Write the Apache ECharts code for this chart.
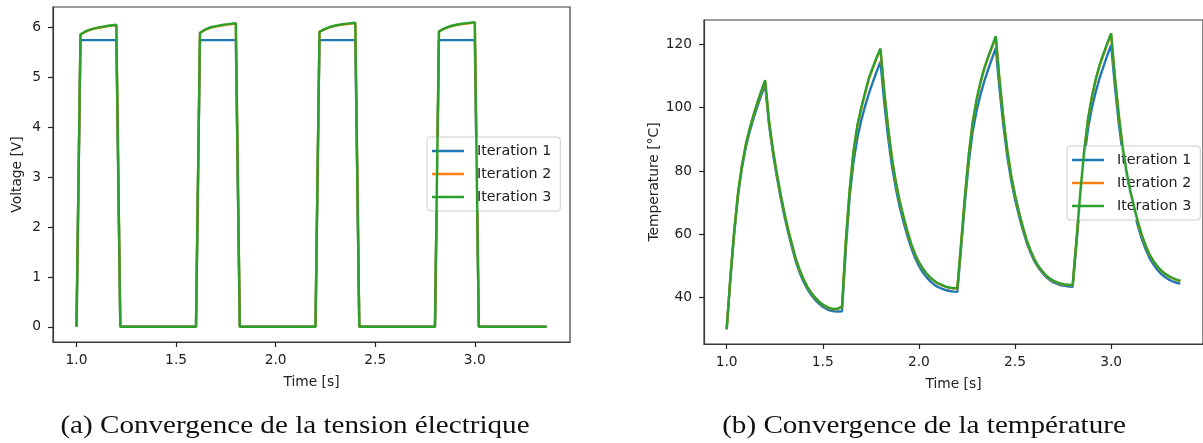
<!DOCTYPE html>
<html>
<head>
<meta charset="utf-8">
<script src="https://cdn.jsdelivr.net/npm/echarts@6/dist/echarts.min.js"></script>
<style>
  html, body { margin: 0; padding: 0; background: #ffffff; }
  #chart { width: 1203px; height: 443px; }
</style>
</head>
<body>
<div id="chart"></div>
<script>
// ---- Data ----
const times = [
  1.00,1.02,1.04,1.06,1.08,1.10,1.12,1.14,1.16,1.18,
  1.20,1.22,1.24,1.26,1.28,1.30,1.32,1.34,1.36,1.38,
  1.40,1.42,1.44,1.46,1.48,1.50,1.52,1.54,1.56,1.58,
  1.60,1.62,1.64,1.66,1.68,1.70,1.72,1.74,1.76,1.78,
  1.80,1.82,1.84,1.86,1.88,1.90,1.92,1.94,1.96,1.98,
  2.00,2.02,2.04,2.06,2.08,2.10,2.12,2.14,2.16,2.18,
  2.20,2.22,2.24,2.26,2.28,2.30,2.32,2.34,2.36,2.38,
  2.40,2.42,2.44,2.46,2.48,2.50,2.52,2.54,2.56,2.58,
  2.60,2.62,2.64,2.66,2.68,2.70,2.72,2.74,2.76,2.78,
  2.80,2.82,2.84,2.86,2.88,2.90,2.92,2.94,2.96,2.98,
  3.00,3.02,3.04,3.06,3.08,3.10,3.12,3.14,3.16,3.18,
  3.20,3.22,3.24,3.26,3.28,3.30,3.32,3.34,3.36
];

const seriesNames = ['Iteration 1', 'Iteration 2', 'Iteration 3'];

// Voltage [V]
const voltageIter1 = [
  0,5.75,5.75,5.75,5.75,5.75,5.75,5.75,5.75,5.75,
  5.75,0,0,0,0,0,0,0,0,0,
  0,0,0,0,0,0,0,0,0,0,
  0,5.75,5.75,5.75,5.75,5.75,5.75,5.75,5.75,5.75,
  5.75,0,0,0,0,0,0,0,0,0,
  0,0,0,0,0,0,0,0,0,0,
  0,5.75,5.75,5.75,5.75,5.75,5.75,5.75,5.75,5.75,
  5.75,0,0,0,0,0,0,0,0,0,
  0,0,0,0,0,0,0,0,0,0,
  0,5.75,5.75,5.75,5.75,5.75,5.75,5.75,5.75,5.75,
  5.75,0,0,0,0,0,0,0,0,0,
  0,0,0,0,0,0,0,0,0
];
const voltageIter2 = [
  0,5.865,5.908,5.944,5.970,5.990,6.005,6.018,6.031,6.042,
  6.052,0,0,0,0,0,0,0,0,0,
  0,0,0,0,0,0,0,0,0,0,
  0,5.895,5.944,5.981,6.006,6.023,6.038,6.053,6.063,6.073,
  6.082,0,0,0,0,0,0,0,0,0,
  0,0,0,0,0,0,0,0,0,0,
  0,5.915,5.954,5.989,6.017,6.036,6.052,6.064,6.074,6.083,
  6.092,0,0,0,0,0,0,0,0,0,
  0,0,0,0,0,0,0,0,0,0,
  0,5.925,5.965,6.000,6.027,6.047,6.062,6.074,6.084,6.093,
  6.102,0,0,0,0,0,0,0,0,0,
  0,0,0,0,0,0,0,0,0
];
const voltageIter3 = [
  0,5.870,5.915,5.952,5.978,5.998,6.013,6.026,6.039,6.050,
  6.060,0,0,0,0,0,0,0,0,0,
  0,0,0,0,0,0,0,0,0,0,
  0,5.900,5.951,5.989,6.014,6.031,6.046,6.061,6.071,6.081,
  6.090,0,0,0,0,0,0,0,0,0,
  0,0,0,0,0,0,0,0,0,0,
  0,5.920,5.961,5.997,6.025,6.044,6.060,6.072,6.082,6.091,
  6.100,0,0,0,0,0,0,0,0,0,
  0,0,0,0,0,0,0,0,0,0,
  0,5.930,5.972,6.008,6.035,6.055,6.070,6.082,6.092,6.101,
  6.110,0,0,0,0,0,0,0,0,0,
  0,0,0,0,0,0,0,0,0
];

// Temperature [°C]
const tempIter1 = [
  30,46.5,61,72.8,81.2,87.6,92.5,96.7,100.5,104,
  107.2,94.8,85.8,78.5,71.8,65.8,60.5,55.8,51.3,47.8,
  45,42.7,40.8,39.3,38.1,37.1,36.4,35.9,35.7,35.6,
  35.7,55.5,72,83,90.5,96,100.5,104.5,108,111.4,
  114.5,101.5,90.5,81.5,74.5,68.7,63.8,59.5,55.7,52.6,
  50,48,46.4,45.1,44.1,43.3,42.8,42.4,42.1,41.9,
  41.8,56,70.5,83,92.5,99,104,108.3,112,115.5,
  118.8,105.5,94,84.5,77,71,66,61.5,57.5,54.3,
  51.6,49.6,48,46.6,45.6,44.8,44.3,43.9,43.7,43.5,
  43.4,57.2,71.5,84,93.5,100,105,109.3,113,116.5,
  119.8,106.5,95,85.5,78,72,67,62.5,58.5,55.2,
  52.5,50.5,48.8,47.5,46.5,45.7,45.1,44.7,44.4
];
const tempIter2 = [
  30,47,61.5,73.4,81.9,88.4,93.4,97.6,101.5,105,
  108.4,95.8,86.8,79.3,72.6,66.6,61.3,56.6,52,48.5,
  45.7,43.3,41.4,39.9,38.7,37.7,37,36.5,36.3,36.5,
  37.1,57.8,74,86.1,94.2,99.7,104.5,109.1,112.4,115.6,
  118.4,104.8,93.3,83.8,76.3,70.3,65.3,60.8,56.8,53.7,
  51.1,49.1,47.5,46.2,45.2,44.4,43.9,43.4,43.1,42.9,
  42.9,57.3,72.3,85.3,95.3,102.3,107.8,112.3,115.8,119.1,
  122.3,108.2,96.3,86.3,78.4,72.2,67,62.3,58.1,54.9,
  52.1,50,48.4,47,46,45.2,44.7,44.3,44.1,43.95,
  43.9,58.3,73.3,86.3,96.3,103.3,108.8,113.3,116.8,120.1,
  123.2,109.2,97.4,87.4,79.7,73.5,68.4,63.6,59.5,56.2,
  53.5,51.5,49.8,48.5,47.5,46.7,46.1,45.6,45.2
];
const tempIter3 = [
  30,47,61.5,73.5,82,88.5,93.5,97.8,101.7,105.3,
  108.7,96,87,79.5,72.8,66.8,61.5,56.8,52.2,48.7,
  45.8,43.4,41.5,40,38.8,37.8,37.1,36.6,36.4,36.6,
  37.2,58,74.3,86.4,94.5,100,104.8,109.4,112.7,115.9,
  118.7,105,93.5,84,76.5,70.5,65.5,61,57,53.8,
  51.2,49.2,47.6,46.3,45.3,44.5,44,43.5,43.2,43,
  43,57.5,72.5,85.5,95.5,102.5,108,112.5,116,119.3,
  122.6,108.4,96.5,86.5,78.6,72.4,67.2,62.5,58.3,55,
  52.2,50.1,48.5,47.1,46.1,45.3,44.8,44.4,44.2,44.05,
  44,58.5,73.5,86.5,96.5,103.5,109,113.5,117,120.3,
  123.5,109.4,97.6,87.6,79.9,73.7,68.6,63.8,59.7,56.4,
  53.6,51.6,49.9,48.6,47.6,46.8,46.2,45.7,45.3
];

const timeTicks = [1.0, 1.5, 2.0, 2.5, 3.0];
const voltageTicks = [0, 1, 2, 3, 4, 5, 6];
const tempTicks = [40, 60, 80, 100, 120];

const captionA = '(a) Convergence de la tension électrique';
const captionB = '(b) Convergence de la température';

// ---- Chart ----
const colors = ['#1f77b4', '#ff7f0e', '#2ca02c'];
const font = 'DejaVu Sans';
const textColor = '#222';
const spine = '#3a3a3a';

function pairs(vals) { return times.map((t, i) => [t, vals[i]]); }

function xAxis(gridIndex) {
  return {
    type: 'value', gridIndex: gridIndex,
    min: 0.882, max: 3.478,
    name: 'Time [s]', nameLocation: 'middle', nameGap: 33,
    nameTextStyle: { fontFamily: font, fontSize: 13.8, color: textColor },
    axisLine: { show: true, onZero: false, lineStyle: { color: spine, width: 1.2 } },
    axisTick: { show: true, inside: false, length: 5, lineStyle: { color: '#222', width: 1.2 }, customValues: timeTicks },
    axisLabel: { fontFamily: font, fontSize: 13.8, color: textColor, margin: 11,
      customValues: timeTicks, formatter: v => Number(v).toFixed(1) },
    splitLine: { show: false }
  };
}

function yAxis(gridIndex, name, min, max, ticks, gap) {
  return {
    type: 'value', gridIndex: gridIndex, min: min, max: max,
    name: name, nameLocation: 'middle', nameGap: gap,
    nameTextStyle: { fontFamily: font, fontSize: 13.8, color: textColor },
    axisLine: { show: true, onZero: false, lineStyle: { color: spine, width: 1.2 } },
    axisTick: { show: true, inside: false, length: 5, lineStyle: { color: '#222', width: 1.2 }, customValues: ticks },
    axisLabel: { fontFamily: font, fontSize: 13.8, color: textColor, margin: 12,
      customValues: ticks, formatter: v => String(Math.round(v)) },
    splitLine: { show: false }
  };
}

function legend(left, top) {
  return {
    data: seriesNames, orient: 'vertical', left: left, top: top,
    icon: 'rect', itemWidth: 32, itemHeight: 2.5, itemGap: 7,
    padding: [6, 9, 6, 5],
    backgroundColor: 'rgba(255,255,255,0.8)', borderColor: '#cccccc', borderWidth: 1, borderRadius: 3,
    textStyle: { fontFamily: font, fontSize: 14.3, color: textColor, lineHeight: 16, padding: [0, 0, 0, 8] },
    selectedMode: false
  };
}

function lineSeries(name, idx, vals, axisIdx) {
  return {
    type: 'line', name: name, xAxisIndex: axisIdx, yAxisIndex: axisIdx,
    data: pairs(vals), showSymbol: false, symbol: 'none',
    color: colors[idx],
    lineStyle: { color: colors[idx], width: 2.4 },
    animation: false, z: 2 + idx
  };
}

const chart = echarts.init(document.getElementById('chart'), null, { renderer: 'canvas' });
chart.setOption({
  backgroundColor: '#ffffff',
  animation: false,
  grid: [
    { left: 53, top: 7, width: 517, height: 335, show: true, borderColor: spine, borderWidth: 1.2, backgroundColor: 'transparent', containLabel: false },
    { left: 704, top: 20, width: 501, height: 324, show: true, borderColor: spine, borderWidth: 1.2, backgroundColor: 'transparent', containLabel: false }
  ],
  xAxis: [xAxis(0), xAxis(1)],
  yAxis: [
    yAxis(0, 'Voltage [V]', -0.3055, 6.4155, voltageTicks, 29),
    yAxis(1, 'Temperature [°C]', 25.35, 127.7, tempTicks, 42)
  ],
  legend: [legend(427, 137), legend(1067, 146)],
  series: [
    lineSeries(seriesNames[0], 0, voltageIter1, 0),
    lineSeries(seriesNames[1], 1, voltageIter2, 0),
    lineSeries(seriesNames[2], 2, voltageIter3, 0),
    lineSeries(seriesNames[0], 0, tempIter1, 1),
    lineSeries(seriesNames[1], 1, tempIter2, 1),
    lineSeries(seriesNames[2], 2, tempIter3, 1)
  ],
  graphic: [
    { type: 'text', x: 295, y: 426, scaleX: 1.12, style: { text: captionA, font: '26px "Liberation Serif"', fill: '#111', align: 'center', verticalAlign: 'middle' } },
    { type: 'text', x: 924, y: 426, scaleX: 1.12, style: { text: captionB, font: '26px "Liberation Serif"', fill: '#111', align: 'center', verticalAlign: 'middle' } }
  ]
});
</script>
</body>
</html>
